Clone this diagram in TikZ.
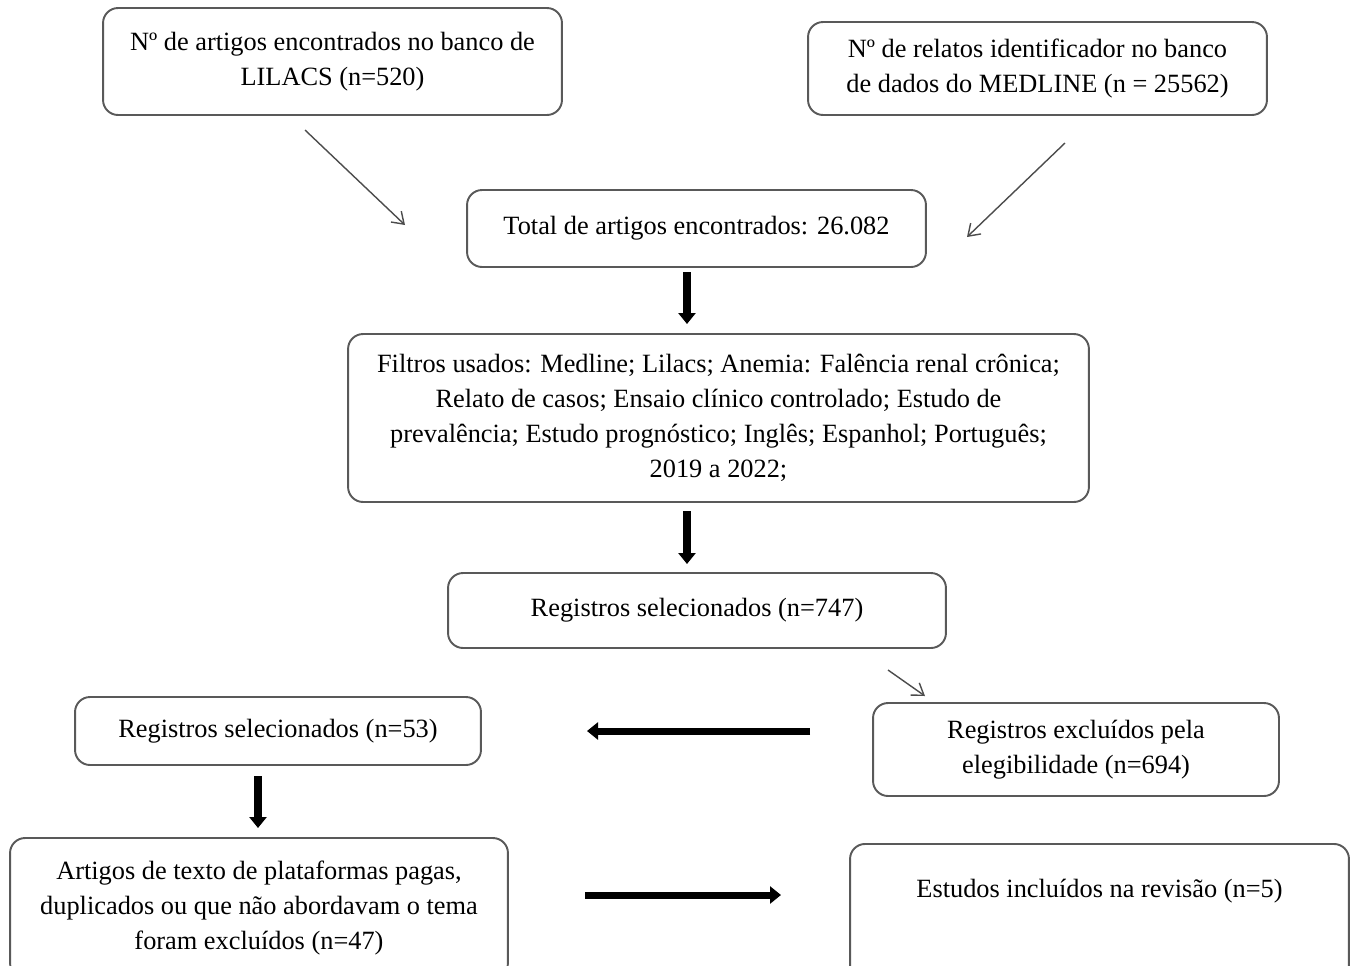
\documentclass[tikz,border=0pt]{standalone}
\usepackage{fontspec}
\setmainfont{Liberation Serif}
\usepackage{tikz}
\usetikzlibrary{arrows.meta}

\begin{document}
\begin{tikzpicture}[x=0.02cm, y=-0.02cm,
    box/.style={draw=black!65, line width=1.1pt, rounded corners=0.3cm, align=center, font=\fontsize{15}{19.9}\selectfont},
    thinarrow/.style={draw=black!70, line width=0.8pt, -{Straight Barb[length=0.22cm, width=0.3cm]}},
    bigarrow/.style={line width=4pt, -{Triangle[length=0.22cm, width=0.34cm]}}];

    \useasboundingbox (0,0) rectangle (1357,965);
    \clip (0,0) rectangle (1357,965);

    % boxes
    \node[box, minimum width=9.18cm, minimum height=2.14cm] (lilacs) at (332.5,61.5)
        {Nº de artigos encontrados no banco de\\LILACS (n=520)};
    \node[box, minimum width=9.18cm, minimum height=1.86cm] (medline) at (1037.5,68.5)
        {Nº de relatos identificador no banco\\de dados do MEDLINE (n = 25562)};
    \node[box, minimum width=9.18cm, minimum height=1.54cm] (total) at (696.5,228.5)
        {Total de artigos encontrados: 26.082};
    \node[box, minimum width=14.82cm, minimum height=3.36cm] (filtros) at (718.5,418)
        {Filtros usados: Medline; Lilacs; Anemia: Falência renal crônica;\\
         Relato de casos; Ensaio clínico controlado; Estudo de\\
         prevalência; Estudo prognóstico; Inglês; Espanhol; Português;\\
         2019 a 2022;};
    \node[box, minimum width=9.96cm, minimum height=1.5cm] (sel747) at (697,610.5)
        {Registros selecionados (n=747)};
    \node[box, minimum width=8.12cm, minimum height=1.86cm] (excl) at (1076,749.5)
        {Registros excluídos pela\\elegibilidade (n=694)};
    \node[box, minimum width=8.12cm, minimum height=1.36cm] (sel53) at (278,731)
        {Registros selecionados (n=53)};
    \node[box, minimum width=9.96cm, minimum height=2.8cm] (artigos) at (259,908)
        {Artigos de texto de plataformas pagas,\\
         duplicados ou que não abordavam o tema\\
         foram excluídos (n=47)};
    \node[box, anchor=north, minimum width=9.98cm, inner ysep=0.18cm,
          text height=0.9cm, text depth=1.6cm] (estudos) at (1099.5,843)
        {Estudos incluídos na revisão (n=5)};

    % arrows
    \coordinate (a1) at (305,130);
    \coordinate (a2) at (405,225);
    \coordinate (b1) at (1065,143);
    \coordinate (b2) at (967,237);
    \coordinate (c1) at (687,272);
    \coordinate (c2) at (687,324);
    \coordinate (d1) at (687,511);
    \coordinate (d2) at (687,564);
    \coordinate (e1) at (888,670);
    \coordinate (e2) at (925,696);
    \coordinate (f1) at (810,731);
    \coordinate (f2) at (587,731);
    \coordinate (g1) at (258,776);
    \coordinate (g2) at (258,828);
    \coordinate (h1) at (585,895);
    \coordinate (h2) at (781,895);

    \draw[thinarrow] (a1) -- (a2);
    \draw[thinarrow] (b1) -- (b2);
    \draw[bigarrow] (c1) -- (c2);
    \draw[bigarrow] (d1) -- (d2);
    \draw[thinarrow] (e1) -- (e2);
    \draw[bigarrow] (f1) -- (f2);
    \draw[bigarrow] (g1) -- (g2);
    \draw[bigarrow] (h1) -- (h2);
\end{tikzpicture}
\end{document}
